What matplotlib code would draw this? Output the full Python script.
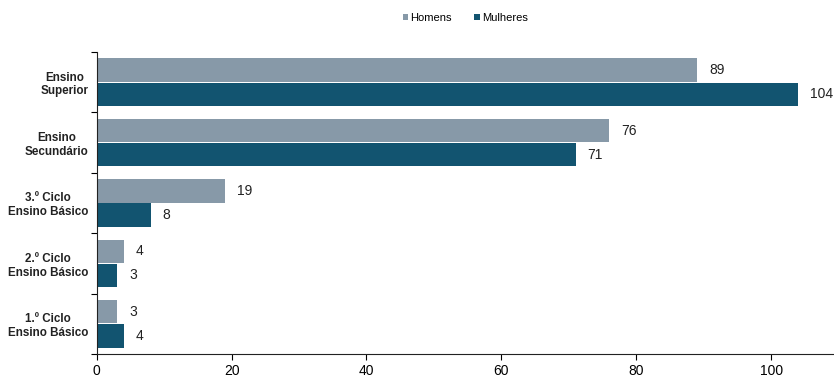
import matplotlib
matplotlib.use("Agg")
import matplotlib.pyplot as plt
import numpy as np

plt.rcParams['font.family'] = ['Liberation Sans', 'DejaVu Sans']

categories = ["Ensino\nSuperior", "Ensino\nSecundário", "3.º Ciclo\nEnsino Básico",
              "2.º Ciclo\nEnsino Básico", "1.º Ciclo\nEnsino Básico"]
homens = [89, 76, 19, 4, 3]
mulheres = [104, 71, 8, 3, 4]
series_names = ["Homens", "Mulheres"]
colors = ["#8799A8", "#125470"]
xticks = [0, 20, 40, 60, 80, 100]

fig = plt.figure(figsize=(8.34, 3.78), dpi=100)
ax = fig.add_axes([0.116, 0.0635, 0.883, 0.799])

n = len(categories)
y = np.arange(n)[::-1].astype(float)
h = 0.385
off = 0.2

b1 = ax.barh(y + off, homens, height=h, color=colors[0], label=series_names[0])
b2 = ax.barh(y - off, mulheres, height=h, color=colors[1], label=series_names[1])

for bars, vals in ((b1, homens), (b2, mulheres)):
    for bar, v in zip(bars, vals):
        ax.annotate(str(v), (bar.get_width(), bar.get_y() + bar.get_height() / 2),
                    xytext=(12, 0), textcoords="offset pixels",
                    va="center", ha="left", fontsize=10, color="#222222")

ax.set_xlim(0, 109.2)
ax.set_ylim(-0.5, n - 0.5)
ax.set_xticks(xticks)
ax.set_xticklabels([str(t) for t in xticks], fontsize=10)
ax.set_yticks(y)
ax.set_yticklabels(categories, fontsize=8.4, fontweight="bold", color="#222222")
for lab in ax.get_yticklabels():
    lab.set_multialignment("center")
ax.set_yticks(np.arange(-0.5, n, 1.0), minor=True)
ax.tick_params(axis="y", which="major", length=0, pad=6)
ax.tick_params(axis="y", which="minor", length=4, direction="out", width=0.8)
ax.tick_params(axis="x", which="major", length=4, direction="out", width=0.8, pad=3)

for s in ("top", "right"):
    ax.spines[s].set_visible(False)
for s in ("left", "bottom"):
    ax.spines[s].set_linewidth(0.8)
    ax.spines[s].set_color("#222222")

leg = fig.legend(handles=[b1, b2], labels=series_names, loc="center",
                 bbox_to_anchor=(0.558, 0.952), ncol=2, frameon=False,
                 fontsize=8, handlelength=0.5, handleheight=0.5,
                 handletextpad=0.2, columnspacing=2.0)

fig.savefig("out.png", dpi=100)
